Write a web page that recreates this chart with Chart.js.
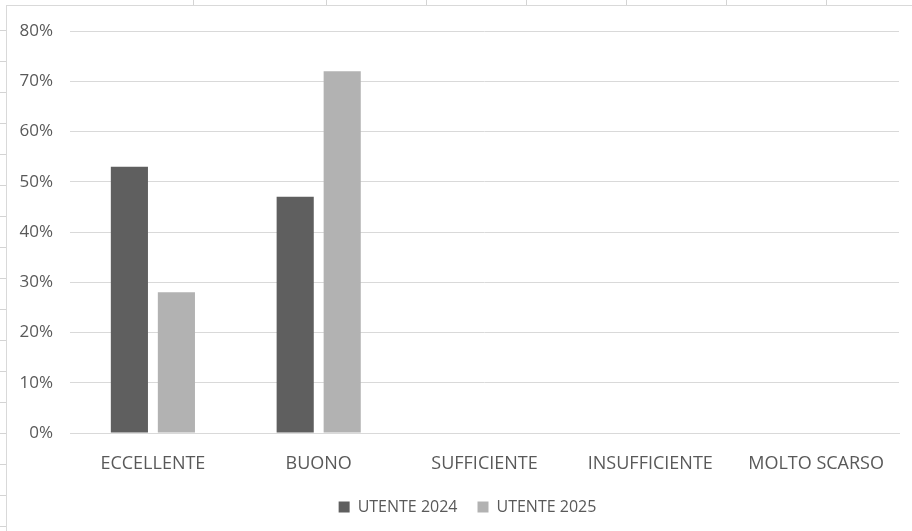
<!DOCTYPE html>
<html>
<head>
<meta charset="utf-8">
<script src="https://cdn.jsdelivr.net/npm/chart.js@4"></script>
<style>
    html, body { margin: 0; padding: 0; }
    body {
        width: 912px;
        height: 531px;
        position: relative;
        overflow: hidden;
        background: #ffffff;
    }
    /* spreadsheet cells peeking out behind the chart */
    .cells-left {
        position: absolute; left: 0; top: 0; width: 7px; height: 531px;
        background: repeating-linear-gradient(180deg, transparent 0 30px, #d4d4d4 30px 31px);
    }
    .vline { position: absolute; top: 0; width: 1px; height: 6px; background: #d4d4d4; }
    .frame {
        position: absolute; left: 6px; top: 5px; width: 906px; height: 526px;
        border-left: 1px solid #d9d9d9; border-top: 1px solid #d9d9d9;
        background: #ffffff;
    }
    canvas { position: absolute; left: 1px; top: 1px; }
</style>
</head>
<body>
<div class="cells-left"></div>
<div class="vline" style="left:193px"></div>
<div class="vline" style="left:326px"></div>
<div class="vline" style="left:426px"></div>
<div class="vline" style="left:526px"></div>
<div class="vline" style="left:626px"></div>
<div class="vline" style="left:726px"></div>
<div class="vline" style="left:826px"></div>
<div class="frame"><canvas id="grafico" width="905" height="525"></canvas></div>
<script>
    let categorie = ['ECCELLENTE', 'BUONO', 'SUFFICIENTE', 'INSUFFICIENTE', 'MOLTO SCARSO'];
    let utente2024 = [53, 47, 0, 0, 0];
    let utente2025 = [28, 72, 0, 0, 0];
    let tickPercentuali = [0, 10, 20, 30, 40, 50, 60, 70, 80];

    const testo = '#595959';

    // the legend sits a bit right of centre in the original
    const spostaLegenda = {
        id: 'spostaLegenda',
        afterLayout: function (chart) {
            chart.legend.left += 14;
            chart.legend.right += 14;
        }
    };

    new Chart('grafico', {
        type: 'bar',
        data: {
            labels: categorie,
            datasets: [{
                label: 'UTENTE 2024',
                data: utente2024,
                backgroundColor: '#5f5f5f',
                barPercentage: 0.79,
                categoryPercentage: 0.567
            }, {
                label: 'UTENTE 2025',
                data: utente2025,
                backgroundColor: '#b2b2b2',
                barPercentage: 0.79,
                categoryPercentage: 0.567
            }]
        },
        plugins: [spostaLegenda],
        options: {
            responsive: false,
            animation: false,
            layout: { padding: { top: 24, right: 14, left: 0, bottom: 7 } },
            plugins: {
                tooltip: { enabled: false },
                legend: {
                    position: 'bottom',
                    labels: {
                        color: testo,
                        font: { family: 'Open Sans', size: 16 },
                        boxWidth: 11,
                        boxHeight: 11,
                        padding: 20
                    }
                }
            },
            scales: {
                x: {
                    afterFit: function (scale) { scale.height = 46; },
                    grid: { display: false, drawTicks: false },
                    border: { color: '#d9d9d9' },
                    ticks: { color: testo, font: { family: 'Open Sans', size: 18 }, padding: 20 }
                },
                y: {
                    min: 0,
                    max: 80,
                    afterBuildTicks: function (scale) {
                        scale.ticks = tickPercentuali.map(v => ({ value: v }));
                    },
                    afterFit: function (scale) { scale.width = 62; },
                    grid: { color: '#d9d9d9', tickLength: 14, tickColor: 'rgba(0,0,0,0)' },
                    border: { display: false },
                    ticks: {
                        color: testo,
                        font: { family: 'Open Sans', size: 17 },
                        padding: 3,
                        callback: function (value) { return value + '%'; }
                    }
                }
            }
        }
    });
</script>
</body>
</html>
